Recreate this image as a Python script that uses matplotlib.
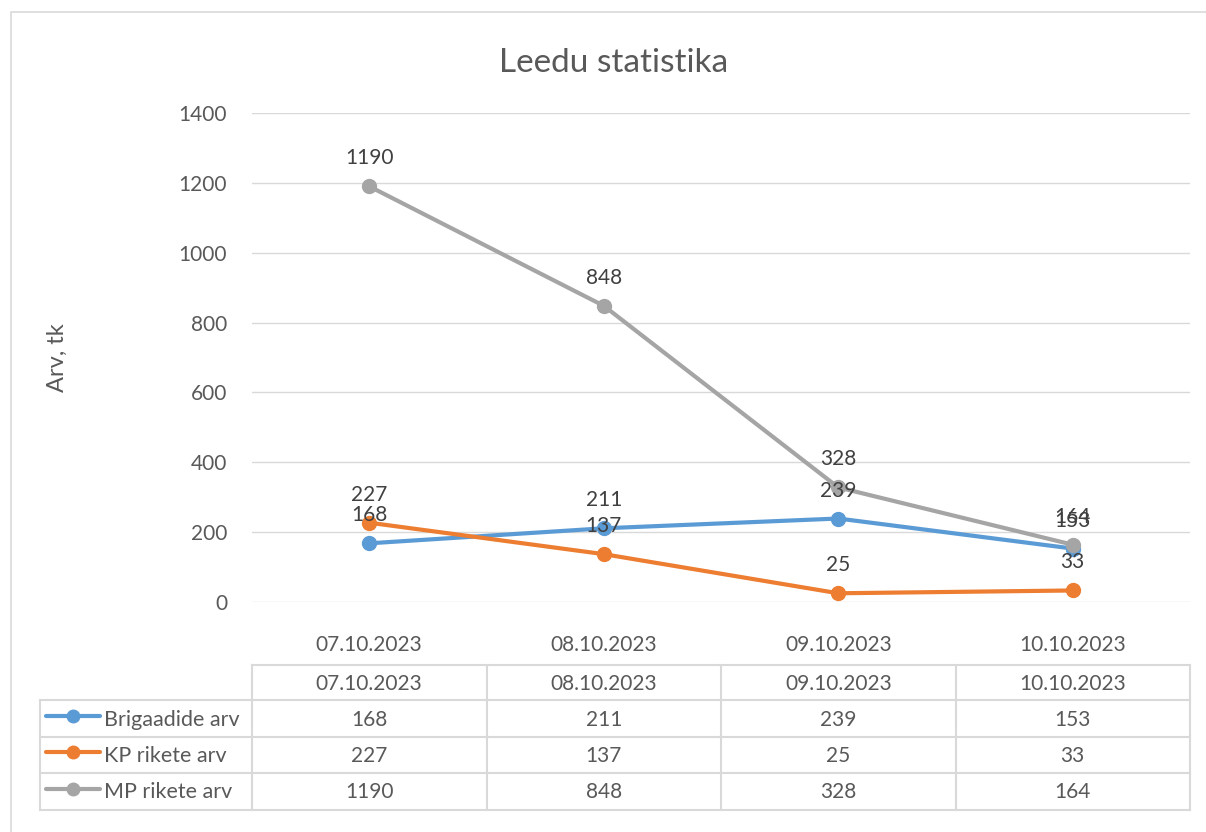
import numpy as np
import matplotlib.pyplot as plt
from matplotlib.lines import Line2D

plt.rcParams['font.family'] = ['Lato', 'DejaVu Sans']

dates = ['07.10.2023', '08.10.2023', '09.10.2023', '10.10.2023']
series_names = ['Brigaadide arv', 'KP rikete arv', 'MP rikete arv']
brigaadid = [168, 211, 239, 153]
kp_rikked = [227, 137, 25, 33]
mp_rikked = [1190, 848, 328, 164]
colors = ['#5B9BD5', '#ED7D31', '#A5A5A5']
all_series = [brigaadid, kp_rikked, mp_rikked]

W, H = 1206, 832
txt = '#595959'
grid_c = '#D9D9D9'
fs = 15

fig = plt.figure(figsize=(W / 100, H / 100), dpi=100)

# canvas axes in pixel coords for border + table
canvas = fig.add_axes([0, 0, 1, 1])
canvas.set_xlim(0, W)
canvas.set_ylim(H, 0)
canvas.axis('off')
canvas.plot([11, 11, W], [H, 12, 12], color=grid_c, lw=1.2)

# main plot
x0, x1, ytop, ybot = 252, 1190, 113, 602
ax = fig.add_axes([x0 / W, 1 - ybot / H, (x1 - x0) / W, (ybot - ytop) / H])
xs = np.arange(len(dates))
for vals, c in zip(all_series, colors):
    ax.plot(xs, vals, color=c, lw=3, marker='o', ms=10, solid_capstyle='round', zorder=3)
    for xi, v in zip(xs, vals):
        ax.annotate(str(v), (xi, v), xytext=(0, 28), textcoords='offset pixels',
                    ha='center', va='center', fontsize=fs, color='#404040', zorder=4)
ax.set_xlim(-0.5, len(dates) - 0.5)
ax.set_ylim(0, 1400)
ax.set_yticks(range(0, 1401, 200))
ax.set_xticks(xs)
ax.set_xticklabels(dates)
ax.grid(axis='y', color=grid_c, lw=1)
ax.set_axisbelow(True)
for s in ax.spines.values():
    s.set_visible(False)
ax.tick_params(length=0, labelsize=fs, colors=txt)
ax.tick_params(axis='y', pad=18)
ax.tick_params(axis='x', pad=24)
ax.set_ylabel('Arv, tk', fontsize=17, color=txt)
ax.yaxis.set_label_coords((68 - x0) / (x1 - x0), 0.5)
fig.text(614 / W, 1 - 63 / H, 'Leedu statistika', fontsize=24, color=txt,
         ha='center', va='center')

# data table
col_w = (x1 - x0) / len(dates)
row_y = [665, 700, 737, 773, 810]
leg_x = 40
canvas.plot([x0, x1], [row_y[0], row_y[0]], color=grid_c, lw=1.5)
for y in row_y[1:]:
    canvas.plot([leg_x, x1], [y, y], color=grid_c, lw=1.5)
canvas.plot([leg_x, leg_x], [row_y[1], row_y[-1]], color=grid_c, lw=1.5)
for i in range(len(dates) + 1):
    xv = x0 + i * col_w
    canvas.plot([xv, xv], [row_y[0], row_y[-1]], color=grid_c, lw=1.5)
for i, d in enumerate(dates):
    canvas.text(x0 + (i + 0.5) * col_w, (row_y[0] + row_y[1]) / 2 + 2, d,
                ha='center', va='center', fontsize=fs, color=txt)
for r, (name, vals, c) in enumerate(zip(series_names, all_series, colors)):
    yc = (row_y[r + 1] + row_y[r + 2]) / 2
    canvas.add_line(Line2D([46, 100], [yc - 3, yc - 3], color=c, lw=3,
                           solid_capstyle='round'))
    canvas.plot([73], [yc - 3], marker='o', ms=9, color=c)
    canvas.text(104, yc + 1, name, ha='left', va='center', fontsize=15.5, color=txt)
    for i, v in enumerate(vals):
        canvas.text(x0 + (i + 0.5) * col_w, yc + 1, str(v),
                    ha='center', va='center', fontsize=fs, color=txt)

fig.savefig('out.png', dpi=100)
